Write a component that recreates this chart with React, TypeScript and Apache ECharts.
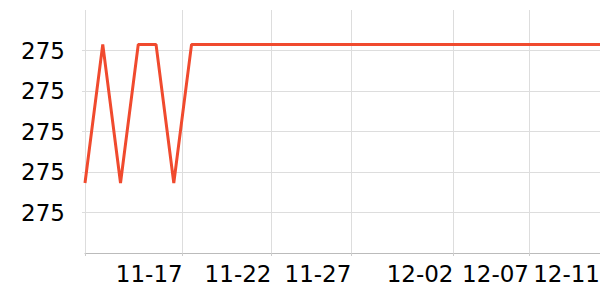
import React, { useEffect, useRef } from "react";
import * as echarts from "echarts";

// Days shown on the category axis and how many observations fall on each day
const days = [
  "11-12", "11-13", "11-14", "11-15", "11-16",
  "11-17", "11-18", "11-19", "11-20", "11-21",
  "11-22", "11-23", "11-24", "11-25", "11-26",
  "11-27", "11-28", "11-29", "11-30", "12-01",
  "12-02", "12-03", "12-04", "12-05", "12-06",
  "12-07", "12-08", "12-09", "12-10", "12-11",
];
const perDay = [
  4, 5, 4, 5, 4,
  4, 4, 4, 4, 4,
  4, 3, 4, 3, 4,
  5, 4, 5, 4, 5,
  3, 4, 3, 4, 3,
  4, 4, 4, 4, 1,
];

// Day labels that get a tick, split line and label
const labelledDays = ["11-17", "11-22", "11-27", "12-02", "12-07", "12-11"];

// Observed points: [category, value]
const pointCats = [
  "11-12 #1", "11-13 #1", "11-13 #5", "11-14 #4", "11-15 #4",
  "11-16 #3", "11-17 #3", "12-11 #1",
];
const pointValues = [
  274.9773, 275.0115, 274.9773, 275.0115, 275.0115,
  274.9773, 275.0115, 275.0115,
];

// y axis
const yMin = 274.96;
const yMax = 275.02;
const yStep = 0.01;

export default function App() {
  const ref = useRef<HTMLDivElement>(null);
  useEffect(() => {
    document.body.style.margin = "0";
    if (!ref.current) return;
    const chart = echarts.init(ref.current, undefined, { renderer: "svg" });

    const categories: string[] = [];
    const firstIdx: Record<string, number> = {};
    days.forEach((d, i) => {
      firstIdx[d] = categories.length;
      for (let k = 1; k <= perDay[i]; k++) categories.push(`${d} #${k}`);
    });
    const shown = new Set<number>([0, ...labelledDays.map((d) => firstIdx[d])]);

    const font = "DejaVu Sans";
    chart.setOption({
      animation: false,
      grid: {
        left: 85,
        right: 0,
        top: 10,
        bottom: 47,
        containLabel: false,
        outerBoundsMode: "none",
      },
      xAxis: {
        type: "category",
        boundaryGap: false,
        data: categories,
        axisLine: { show: true, lineStyle: { color: "#bbbbbb", width: 1 } },
        axisTick: {
          show: true,
          length: 3,
          lineStyle: { color: "#cccccc" },
        },
        axisLabel: {
          interval: (idx: number) => shown.has(idx),
          formatter: (v: string, idx: number) => (idx === 0 ? "" : v.slice(0, 5)),
          align: "right",
          margin: 9,
          fontSize: 23,
          fontFamily: font,
          color: "#000",
        },
        splitLine: {
          show: true,
          lineStyle: { color: "#dddddd", width: 1 },
        },
      },
      yAxis: {
        type: "value",
        min: yMin,
        max: yMax,
        interval: yStep,
        axisLine: { show: false },
        axisTick: { show: true, length: 3, lineStyle: { color: "#dddddd" } },
        axisLabel: {
          formatter: (v: number) => String(Math.round(v)),
          showMinLabel: false,
          showMaxLabel: false,
          margin: 20,
          fontSize: 23,
          fontFamily: font,
          color: "#000",
        },
        splitLine: {
          show: true,
          showMaxLine: false,
          showMinLine: false,
          lineStyle: { color: "#dddddd", width: 1 },
        },
      },
      series: [
        {
          type: "line",
          data: pointCats.map((c, i) => [c, pointValues[i]]),
          showSymbol: false,
          symbol: "none",
          lineStyle: { color: "#f04a2e", width: 3 },
          itemStyle: { color: "#f04a2e" },
        },
      ],
    });
    return () => chart.dispose();
  }, []);
  return <div ref={ref} style={{ width: 600, height: 300 }} />;
}
